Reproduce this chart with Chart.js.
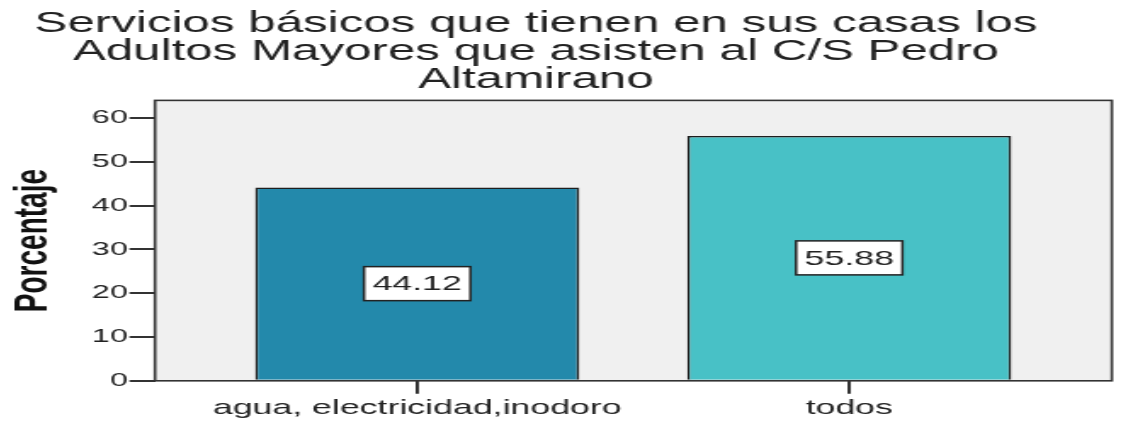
<!DOCTYPE html>
<html><head><meta charset="utf-8">
<script src="https://cdn.jsdelivr.net/npm/chart.js@4.4.0/dist/chart.umd.min.js"></script>
<style>
html,body{margin:0;padding:0;background:#fff;overflow:hidden;width:1122px;height:423px;position:relative;}
#wrap{position:absolute;left:-40px;top:0;width:679px;height:423px;transform:scaleX(1.7);transform-origin:0 0;}
</style></head><body>
<div id="wrap"><canvas id="c"></canvas></div>
<script>
const titleLines = ['Servicios básicos que tienen en sus casas los', 'Adultos Mayores que asisten al C/S Pedro', 'Altamirano'];
const categories = ['agua, electricidad,inodoro', 'todos'];
const percentages = [44.12, 55.88];
const barColors = ['#2389AB', '#48C1C6'];
const yTicks = [0, 10, 20, 30, 40, 50, 60];
const yAxisTitle = 'Porcentaje';

const FONT = '"Liberation Sans", Arial, sans-serif';

const plotFrame = {
  id: 'plotFrame',
  beforeDatasetsDraw(chart) {
    const {ctx, chartArea: a} = chart;
    ctx.save();
    ctx.fillStyle = '#F0F0F0';
    ctx.fillRect(a.left, a.top, a.right - a.left, a.bottom - a.top);
    ctx.restore();
  },
  afterDatasetsDraw(chart) {
    const {ctx, chartArea: a} = chart;
    ctx.save();
    ctx.lineWidth = 1.6;
    ctx.strokeStyle = '#333';
    ctx.strokeRect(a.left, a.top, a.right - a.left, a.bottom - a.top);
    const meta = chart.getDatasetMeta(0);
    ctx.font = '21px ' + FONT;
    meta.data.forEach((bar, i) => {
      const txt = percentages[i].toFixed(2);
      const cx = bar.x, cy = (bar.y + bar.base) / 2;
      const w = ctx.measureText(txt).width + 10, h = 34;
      ctx.fillStyle = '#fff';
      ctx.fillRect(cx - w / 2, cy - h / 2, w, h);
      ctx.lineWidth = 1.5;
      ctx.strokeStyle = '#222';
      ctx.strokeRect(cx - w / 2, cy - h / 2, w, h);
      ctx.fillStyle = '#222';
      ctx.textAlign = 'center';
      ctx.textBaseline = 'middle';
      ctx.fillText(txt, cx, cy + 1);
    });
    ctx.restore();
  }
};

new Chart(document.getElementById('c'), {
  type: 'bar',
  data: {
    datasets: [{
      data: categories.map((c, i) => ({x: i, y: percentages[i]})),
      backgroundColor: barColors,
      borderColor: '#1e1e1e',
      borderWidth: 1.6,
      categoryPercentage: 1,
      barPercentage: 0.75
    }]
  },
  options: {
    responsive: true,
    maintainAspectRatio: false,
    animation: false,
    layout: {padding: {left: 0, right: 1.4, top: 0, bottom: 0}},
    plugins: {
      legend: {display: false},
      tooltip: {enabled: false},
      title: {
        display: true,
        text: titleLines,
        color: '#222',
        font: {family: FONT, size: 29, weight: 'normal', lineHeight: 0.97},
        padding: {top: 10, bottom: 6}
      }
    },
    scales: {
      x: {
        type: 'linear',
        min: -0.607,
        max: 1.608,
        offset: false,
        afterBuildTicks: s => { s.ticks = categories.map((_, i) => ({value: i})); },
        grid: {display: true, offset: false, drawOnChartArea: false, drawTicks: true, tickLength: 13, color: '#333', lineWidth: 2},
        border: {display: false},
        ticks: {callback: v => categories[v], color: '#222', font: {family: FONT, size: 21}, padding: 2, maxRotation: 0, autoSkip: false}
      },
      y: {
        min: 0,
        max: 64,
        afterBuildTicks: s => { s.ticks = yTicks.map(v => ({value: v})); },
        afterFit: s => { s.width = 114.7; },
        grid: {display: true, drawOnChartArea: false, drawTicks: true, tickLength: 15, color: '#333', lineWidth: 2},
        border: {display: false},
        ticks: {color: '#222', font: {family: FONT, size: 19}, padding: 1},
        title: {display: true, text: yAxisTitle, color: '#111', font: {family: FONT, size: 28, weight: 'bold', lineHeight: 1.2}, padding: {top: 26, bottom: 0}}
      }
    }
  },
  plugins: [plotFrame]
});
</script>
</body></html>
